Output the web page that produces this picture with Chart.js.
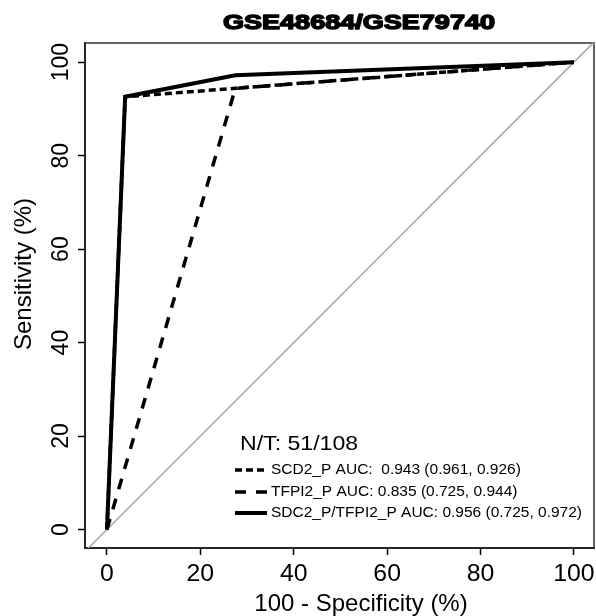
<!DOCTYPE html>
<html><head><meta charset="utf-8">
<script src="https://cdn.jsdelivr.net/npm/chart.js@4/dist/chart.umd.min.js"></script>
<style>html,body{margin:0;padding:0;background:#fff}#wrap{width:596px;height:616px}</style>
</head><body><div id="wrap"><canvas id="c" width="596" height="616"></canvas></div>
<script>
const chartTitle = 'GSE48684/GSE79740';
const xAxisTitle = '100 - Specificity (%)';
const yAxisTitle = 'Sensitivity (%)';
const sampleNote = 'N/T: 51/108';
const xTicks = [0, 20, 40, 60, 80, 100];
const yTicks = [0, 20, 40, 60, 80, 100];
const seriesLabels = [
  'SCD2_P AUC:  0.943 (0.961, 0.926)',
  'TFPI2_P AUC: 0.835 (0.725, 0.944)',
  'SDC2_P/TFPI2_P AUC: 0.956 (0.725, 0.972)'
];
const scd2X = [0, 3.9, 27.5, 100];
const scd2Y = [0, 92.6, 94.4, 100];
const tfpi2X = [0, 27.5, 100];
const tfpi2Y = [0, 94.4, 100];
const comboX = [0, 3.9, 27.5, 100];
const comboY = [0, 92.6, 97.2, 100];
const refLine = [-5, 105];

const pts = (xs, ys) => xs.map((x, i) => ({ x: x, y: ys[i] }));

function txt(ctx, s, px, py, font, align, base, rot, sx) {
  ctx.save();
  ctx.translate(px, py);
  ctx.scale(sx, 1);
  ctx.rotate(rot);
  ctx.font = font;
  ctx.textAlign = align;
  ctx.textBaseline = base;
  ctx.fillStyle = '#000';
  ctx.fillText(s, 0, 0);
  ctx.restore();
}

const boxPlugin = {
  id: 'box',
  beforeDatasetsDraw(chart) {
    const { ctx, chartArea: a } = chart;
    ctx.save();
    ctx.strokeStyle = '#333';
    ctx.lineWidth = 1.5;
    ctx.strokeRect(a.left, a.top, a.right - a.left, a.bottom - a.top);
    ctx.restore();
  }
};

const textPlugin = {
  id: 'texts',
  afterDraw(chart) {
    const { ctx, scales } = chart;
    const xs = scales.x, ys = scales.y;
    // title
    ctx.save();
    ctx.font = 'bold 20px "Liberation Sans"';
    const tw = ctx.measureText(chartTitle).width;
    ctx.translate(359, 29);
    ctx.scale(272 / tw, 1);
    ctx.textAlign = 'center';
    ctx.textBaseline = 'alphabetic';
    ctx.fillStyle = '#000';
    ctx.strokeStyle = '#000';
    ctx.lineWidth = 1.4;
    ctx.lineJoin = 'round';
    ctx.fillText(chartTitle, 0, 0);
    ctx.strokeText(chartTitle, 0, 0);
    ctx.restore();
    // tick labels
    xTicks.forEach(v => txt(ctx, String(v), xs.getPixelForValue(v), 581, '23px "Liberation Sans"', 'center', 'alphabetic', 0, 1.08));
    yTicks.forEach(v => txt(ctx, String(v), 68, ys.getPixelForValue(v), '23px "Liberation Sans"', 'center', 'alphabetic', -Math.PI / 2, 1.08));
    // axis titles
    txt(ctx, xAxisTitle, 361, 611, '24px "Liberation Sans"', 'center', 'alphabetic', 0, 1);
    txt(ctx, yAxisTitle, 31, 274, '24px "Liberation Sans"', 'center', 'alphabetic', -Math.PI / 2, 1);
    // legend
    txt(ctx, sampleNote, 240, 450, '21px "Liberation Sans"', 'left', 'alphabetic', 0, 1.1);
    const rows = [470, 492, 513];
    for (let i = 0; i < 3; i++) {
      const ds = chart.data.datasets[i];
      ctx.save();
      ctx.strokeStyle = '#000';
      ctx.lineWidth = ds.borderWidth;
      ctx.setLineDash(ds.borderDash || []);
      ctx.beginPath();
      ctx.moveTo(235, rows[i]);
      ctx.lineTo(267, rows[i]);
      ctx.stroke();
      ctx.restore();
      txt(ctx, seriesLabels[i], 271, rows[i], '15.5px "Liberation Sans"', 'left', 'middle', 0, 1);
    }
  }
};

const gridOpts = { drawOnChartArea: false, drawTicks: true, tickLength: 7, tickColor: '#000', tickWidth: 1.5 };

new Chart(document.getElementById('c'), {
  type: 'scatter',
  data: {
    datasets: [
      { label: seriesLabels[0], data: pts(scd2X, scd2Y), showLine: true, borderColor: '#000', borderWidth: 3.5, borderDash: [7, 4], pointRadius: 0, tension: 0, order: 2 },
      { label: seriesLabels[1], data: pts(tfpi2X, tfpi2Y), showLine: true, borderColor: '#000', borderWidth: 3.5, borderDash: [11, 10], pointRadius: 0, tension: 0, order: 1 },
      { label: seriesLabels[2], data: pts(comboX, comboY), showLine: true, borderColor: '#000', borderWidth: 4, borderDash: [], pointRadius: 0, tension: 0, order: 0 },
      { label: 'reference', data: pts(refLine, refLine), showLine: true, borderColor: '#a8a8a8', borderWidth: 1.5, pointRadius: 0, tension: 0, order: 10, clip: 0 }
    ]
  },
  options: {
    responsive: false,
    animation: false,
    devicePixelRatio: 1,
    events: [],
    layout: { padding: { top: 43, right: 2, left: 0, bottom: 0 } },
    plugins: { legend: { display: false }, tooltip: { enabled: false }, title: { display: false } },
    scales: {
      x: {
        type: 'linear', min: -4.7, max: 104.3,
        afterBuildTicks: s => { s.ticks = xTicks.map(v => ({ value: v })); },
        afterFit: s => { s.height = 68; },
        ticks: { display: false },
        grid: gridOpts,
        border: { display: true, color: '#000', width: 2 }
      },
      y: {
        type: 'linear', min: -3.95, max: 104.1,
        afterBuildTicks: s => { s.ticks = yTicks.map(v => ({ value: v })); },
        afterFit: s => { s.width = 85; },
        ticks: { display: false },
        grid: gridOpts,
        border: { display: true, color: '#000', width: 2 }
      }
    }
  },
  plugins: [boxPlugin, textPlugin]
});
</script>
</body></html>
